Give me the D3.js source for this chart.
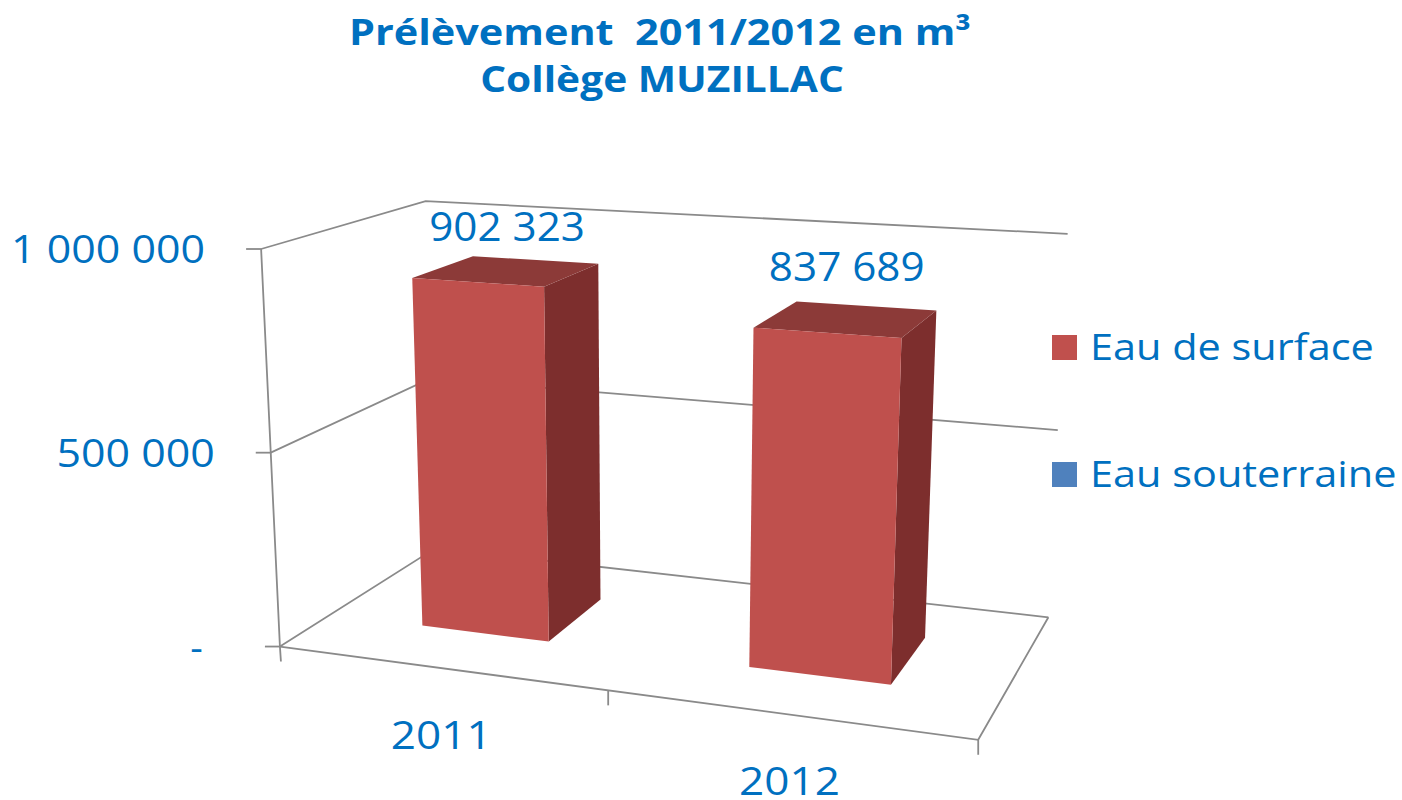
<!DOCTYPE html>
<html>
<head>
<meta charset="utf-8">
<script src="https://d3js.org/d3.v7.min.js"></script>
<style>
  body { margin: 0; background: #fff; }
  text { font-family: "Open Sans", sans-serif; fill: #0070C0; white-space: pre; }
</style>
</head>
<body>
<script>
// data
var years = ["2011", "2012"];
var surface = [902323, 837689];
var souterraine = [0, 0];
var seriesNames = ["Eau de surface", "Eau souterraine"];
var seriesColors = ["#C0504D", "#4F81BD"];
var yTicks = [0, 500000, 1000000];
var yTickLabels = ["-", "500 000", "1 000 000"];

var width = 1402, height = 800;

var svg = d3.select("body").append("svg")
    .attr("width", width)
    .attr("height", height);

// the reference font (Calibri) is wider at the same height, so stretch texts a bit
function stretch(sel, k) {
  sel.each(function() {
    var l = this.getComputedTextLength();
    d3.select(this).attr("textLength", l * k).attr("lengthAdjust", "spacingAndGlyphs");
  });
}

/*
  the 3d box: world coords x (categories) 0..1, y (value) 0..1, z (depth) 0..1.
  screen positions of a few box corners, fix the camera.
*/
var calib = [
  [[0, 1, 0], [262, 249]],
  [[0, 0.5, 0], [270, 452]],
  [[0, 0, 0], [280, 647]],
  [[0, 1, 1], [425, 202]],
  [[0, 0.5, 1], [430, 377]],
  [[0, 0, 1], [436, 549]],
  [[1, 1, 1], [1068, 234]],
  [[1, 0.5, 1], [1058, 430]],
  [[1, 0, 1], [1048, 617]],
  [[1, 0, 0], [978, 740]]
];

function solveCamera(pts) {
  var A = [], b = [];
  pts.forEach(function(d) {
    var X = d[0][0], Y = d[0][1], Z = d[0][2], u = d[1][0] / 1000, v = d[1][1] / 1000;
    A.push([X, Y, Z, 1, 0, 0, 0, 0, -u * X, -u * Y, -u * Z]); b.push(u);
    A.push([0, 0, 0, 0, X, Y, Z, 1, -v * X, -v * Y, -v * Z]); b.push(v);
  });
  var n = 11, M = [];
  for (var i = 0; i < n; i++) {
    M[i] = [];
    for (var j = 0; j < n; j++) {
      var s = 0;
      for (var k = 0; k < A.length; k++) s += A[k][i] * A[k][j];
      M[i][j] = s;
    }
    var r = 0;
    for (var k2 = 0; k2 < A.length; k2++) r += A[k2][i] * b[k2];
    M[i][n] = r;
  }
  // gauss elimination
  for (var c = 0; c < n; c++) {
    var piv = c;
    for (var r2 = c + 1; r2 < n; r2++) if (Math.abs(M[r2][c]) > Math.abs(M[piv][c])) piv = r2;
    var tmp = M[c]; M[c] = M[piv]; M[piv] = tmp;
    for (var r3 = 0; r3 < n; r3++) {
      if (r3 === c) continue;
      var f = M[r3][c] / M[c][c];
      for (var c2 = c; c2 <= n; c2++) M[r3][c2] -= f * M[c][c2];
    }
  }
  return M.map(function(row, i) { return row[n] / row[i]; });
}

var P = solveCamera(calib);

function project(X, Y, Z) {
  var w = P[8] * X + P[9] * Y + P[10] * Z + 1;
  return [1000 * (P[0] * X + P[1] * Y + P[2] * Z + P[3]) / w,
          1000 * (P[4] * X + P[5] * Y + P[6] * Z + P[7]) / w];
}

// scales into world coords
var x = d3.scaleBand().domain(years).range([0, 1]);
var y = d3.scaleLinear().domain([0, 1000000]).range([0, 1]);
var barW = x.bandwidth() * 0.4;
var z0 = 0.3, z1 = 0.7;

var line = d3.line();
var grid = svg.append("g")
    .attr("fill", "none")
    .attr("stroke", "#8a8a8a")
    .attr("stroke-width", 1.8);

// side and back wall gridlines
yTicks.forEach(function(t) {
  grid.append("path").attr("d", line([project(0, y(t), 0), project(0, y(t), 1), project(1, y(t), 1)]));
});
// floor front and right edges
grid.append("path").attr("d", line([project(0, 0, 0), project(1, 0, 0), project(1, 0, 1)]));
// vertical axis
var a0 = project(0, 0, 0), a1 = project(0, 1, 0);
grid.append("path").attr("d", line([a1, a0, [a0[0] + 1, a0[1] + 15]]));

// y ticks and labels
yTicks.forEach(function(t, i) {
  var p = project(0, y(t), 0);
  grid.append("path").attr("d", line([[p[0] - 15, p[1]], p]));
  var lab = svg.append("text")
      .attr("x", p[0] - 56)
      .attr("y", p[1] + 14)
      .attr("dx", t === 0 ? -21 : 0)
      .attr("text-anchor", "end")
      .style("font-size", "39px")
      .text(yTickLabels[i]);
  if (t !== 0) stretch(lab, 1.1);
});

// x ticks (between categories and at the end)
[0.5, 1].forEach(function(t) {
  var p = project(t, 0, 0);
  grid.append("path").attr("d", line([p, [p[0], p[1] + 15]]));
});

// category labels
years.forEach(function(d, i) {
  var p = project(x(d) + x.bandwidth() / 2, 0, 0);
  var lab = svg.append("text")
      .attr("x", p[0] + 2)
      .attr("y", p[1] + 81)
      .attr("text-anchor", "middle")
      .style("font-size", "39px")
      .text(d);
  stretch(lab, 1.13);
});

// bars
var bars = svg.append("g");
years.forEach(function(d, i) {
  var xa = x(d) + (x.bandwidth() - barW) / 2, xb = xa + barW;
  var h = y(surface[i]);
  var front = [project(xa, 0, z0), project(xb, 0, z0), project(xb, h, z0), project(xa, h, z0)];
  var top = [project(xa, h, z0), project(xb, h, z0), project(xb, h, z1), project(xa, h, z1)];
  var side = [project(xb, 0, z0), project(xb, 0, z1), project(xb, h, z1), project(xb, h, z0)];
  bars.append("path").attr("d", line(side) + "Z").attr("fill", "#7D2E2D");
  bars.append("path").attr("d", line(top) + "Z").attr("fill", "#8C3A38");
  bars.append("path").attr("d", line(front) + "Z").attr("fill", "#BF504D");

  var c = project(xa + barW / 2, h, (z0 + z1) / 2);
  var lab = svg.append("text")
      .attr("x", c[0])
      .attr("y", c[1] - 30 - i * 8)
      .attr("text-anchor", "middle")
      .style("font-size", "40px")
      .text(d3.format(",")(surface[i]).replace(/,/g, " "));
  stretch(lab, 1.055);
});

// legend
var legend = svg.append("g");
seriesNames.forEach(function(s, i) {
  var ly = 335 + i * 127;
  legend.append("rect")
      .attr("x", 1052).attr("y", ly)
      .attr("width", 25).attr("height", 25)
      .attr("fill", seriesColors[i]);
  var lab = legend.append("text")
      .attr("x", 1090).attr("y", ly + 25)
      .style("font-size", "37px")
      .text(s);
  stretch(lab, 1.12);
});

// title
var t1 = svg.append("text")
    .attr("x", 660).attr("y", 45)
    .attr("text-anchor", "middle")
    .style("font-size", "36px")
    .style("font-weight", "bold")
    .text("Prélèvement  2011/2012 en m³");
var t2 = svg.append("text")
    .attr("x", 662).attr("y", 92)
    .attr("text-anchor", "middle")
    .style("font-size", "36px")
    .style("font-weight", "bold")
    .text("Collège MUZILLAC");
stretch(t1, 1.15);
stretch(t2, 1.13);
</script>
</body>
</html>
